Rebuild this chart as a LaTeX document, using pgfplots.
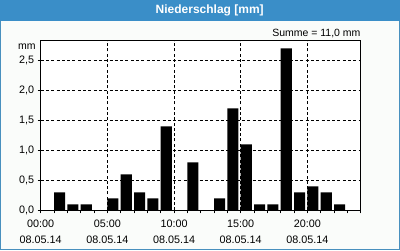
\documentclass[border=0pt]{standalone}
\usepackage{pgfplots}
\pgfplotsset{compat=1.18}
\usepackage{fontspec}
\setmainfont{Liberation Sans}
\definecolor{titleblue}{RGB}{58,142,200}
\definecolor{borderblue}{RGB}{72,144,190}
\definecolor{bgwhite}{RGB}{250,252,250}
\pgfplotstableread{
x y
1.415 0.3
2.415 0.1
3.415 0.1
5.415 0.2
6.415 0.6
7.415 0.3
8.415 0.2
9.415 1.4
11.415 0.8
13.415 0.2
14.415 1.7
15.415 1.1
16.415 0.1
17.415 0.1
18.415 2.7
19.415 0.3
20.415 0.4
21.415 0.3
22.415 0.1
}\rain
\begin{document}
\begin{tikzpicture}[x=1pt,y=1pt]
\fill[bgwhite] (0,0) rectangle (400,250);
\fill[titleblue] (0,229.5) rectangle (400,250);
\draw[borderblue,line width=1pt] (0.5,229.5) -- (0.5,0.5) -- (399.5,0.5) -- (399.5,229.5);
\node[font=\bfseries\fontsize{12}{14}\selectfont,text=white] at (209.7,240) {Niederschlag [mm]};
\begin{axis}[
  at={(40.7pt,39.7pt)}, anchor=south west,
  scale only axis, width=320pt, height=169.6pt,
  xmin=0, xmax=24, ymin=0, ymax=2.827,
  axis background/.style={fill=white},
  axis line style={line width=0.9pt},
  tick pos=left, tick align=outside,
  major tick length=3pt, minor tick length=3pt,
  every tick/.style={black,line width=0.8pt},
  xtick={0,5,10,15,20},
  minor xtick={1,2,3,4,6,7,8,9,11,12,13,14,16,17,18,19,21,22,23,24},
  xticklabels={{00:00\\08.05.14},{05:00\\08.05.14},{10:00\\08.05.14},{15:00\\08.05.14},{20:00\\08.05.14}},
  x tick label style={align=center,font=\fontsize{10.8}{15.7}\selectfont,yshift=-3.5pt},
  ytick={0,0.5,1,1.5,2,2.5},
  y tick label style={font=\fontsize{10.8}{12}\selectfont,
    /pgf/number format/.cd,fixed,fixed zerofill,precision=1,use comma,assume math mode=true},
  grid=major,
  major grid style={black,line width=0.8pt,dash pattern=on 3pt off 2.3pt},
  clip=false,
]
\addplot[ybar,bar width=0.83,bar shift=0pt,fill=black,draw=none] table[x=x,y=y] {\rain};
\node[anchor=east,font=\fontsize{10.5}{12}\selectfont,inner sep=0pt] at (rel axis cs:0,1) [xshift=-5pt,yshift=-6pt] {mm};
\node[anchor=base east,font=\fontsize{10.5}{12}\selectfont,inner sep=0pt] at (rel axis cs:1,1) [yshift=4.7pt] {Summe = 11,0 mm};
\end{axis}
\end{tikzpicture}
\end{document}
